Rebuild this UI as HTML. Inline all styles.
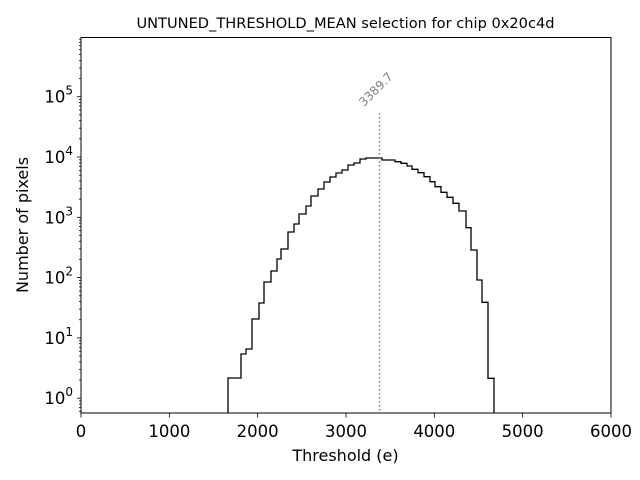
<!DOCTYPE html>
<html><head><meta charset="utf-8"><style>
html,body{margin:0;padding:0;background:#fff;}
svg{display:block;font-family:"DejaVu Sans","Liberation Sans",sans-serif;}
</style></head><body>
<svg id="s" width="640" height="480" viewBox="0 0 640 480">
<rect width="640" height="480" fill="#fff"/>
<text x="345.5" y="28" font-size="14.6" text-anchor="middle">UNTUNED_THRESHOLD_MEAN selection for chip 0x20c4d</text>
<path d="M228,413 V378 H241 V354 H246 V349 H252 V319 H259 V303 H264 V282 H271 V271 H277 V259 H281 V249 H288 V232 H294 V224 H299 V214 H306 V206 H311 V196 H318 V189 H324 V182 H330 V177 H336 V173 H342 V170 H348 V165 H354 V163 H360 V159 H366 V158 H382 V160 H395 V161.7 H401 V163.3 H407 V166 H412 V169.3 H418 V172.7 H424 V176.7 H430 V181.7 H435 V186.7 H441 V192.3 H447 V197.3 H453 V203.3 H459 V211 H466 V227.7 H471 V250 H477 V280 H482 V302.3 H488 V378.3 H494 V413" fill="none" stroke="#000" stroke-width="1.3"/>
<line x1="379.5" y1="113" x2="379.5" y2="413" stroke="#808080" stroke-width="1.5" stroke-dasharray="1.5,2.5"/>
<text x="0" y="0" font-size="12" fill="#808080" transform="translate(364,107) rotate(-45)">3389.7</text>
<rect x="81" y="37.5" width="530" height="375.5" fill="none" stroke="#000" stroke-width="1"/>
<g id="ticks" stroke="#000" stroke-width="0.8"></g>
<g id="labels" font-size="16.5" fill="#000"></g>
<text x="345.5" y="461" font-size="16" text-anchor="middle">Threshold (e)</text>
<text x="0" y="0" font-size="16" text-anchor="middle" transform="translate(28,225) rotate(-90)">Number of pixels</text>
</svg>
<script>
var ns="http://www.w3.org/2000/svg",t=document.getElementById("ticks"),l=document.getElementById("labels");
function ln(x1,y1,x2,y2){var e=document.createElementNS(ns,"line");e.setAttribute("x1",x1);e.setAttribute("y1",y1);e.setAttribute("x2",x2);e.setAttribute("y2",y2);t.appendChild(e);}
function tx(x,y,s,a){var e=document.createElementNS(ns,"text");e.setAttribute("x",x);e.setAttribute("y",y);e.setAttribute("text-anchor",a);e.innerHTML=s;l.appendChild(e);}
for(var i=0;i<=6;i++){var x=81+i*88.33;ln(x,413,x,417.5);tx(x,437,String(i*1000),"middle");}
var y0=398.2,d=60.3;
for(var k=-1;k<=6;k++){for(var m=1;m<10;m++){var y=y0-(k+Math.log10(m))*d;if(y<37.5||y>413)continue;if(m==1){ln(81,y,77,y);if(k>=0&&k<=5)tx(73,y+6,'10<tspan dy="-8" font-size="12">'+k+'</tspan>',"end");}else ln(81,y,79,y);}}
</script>
</body></html>
